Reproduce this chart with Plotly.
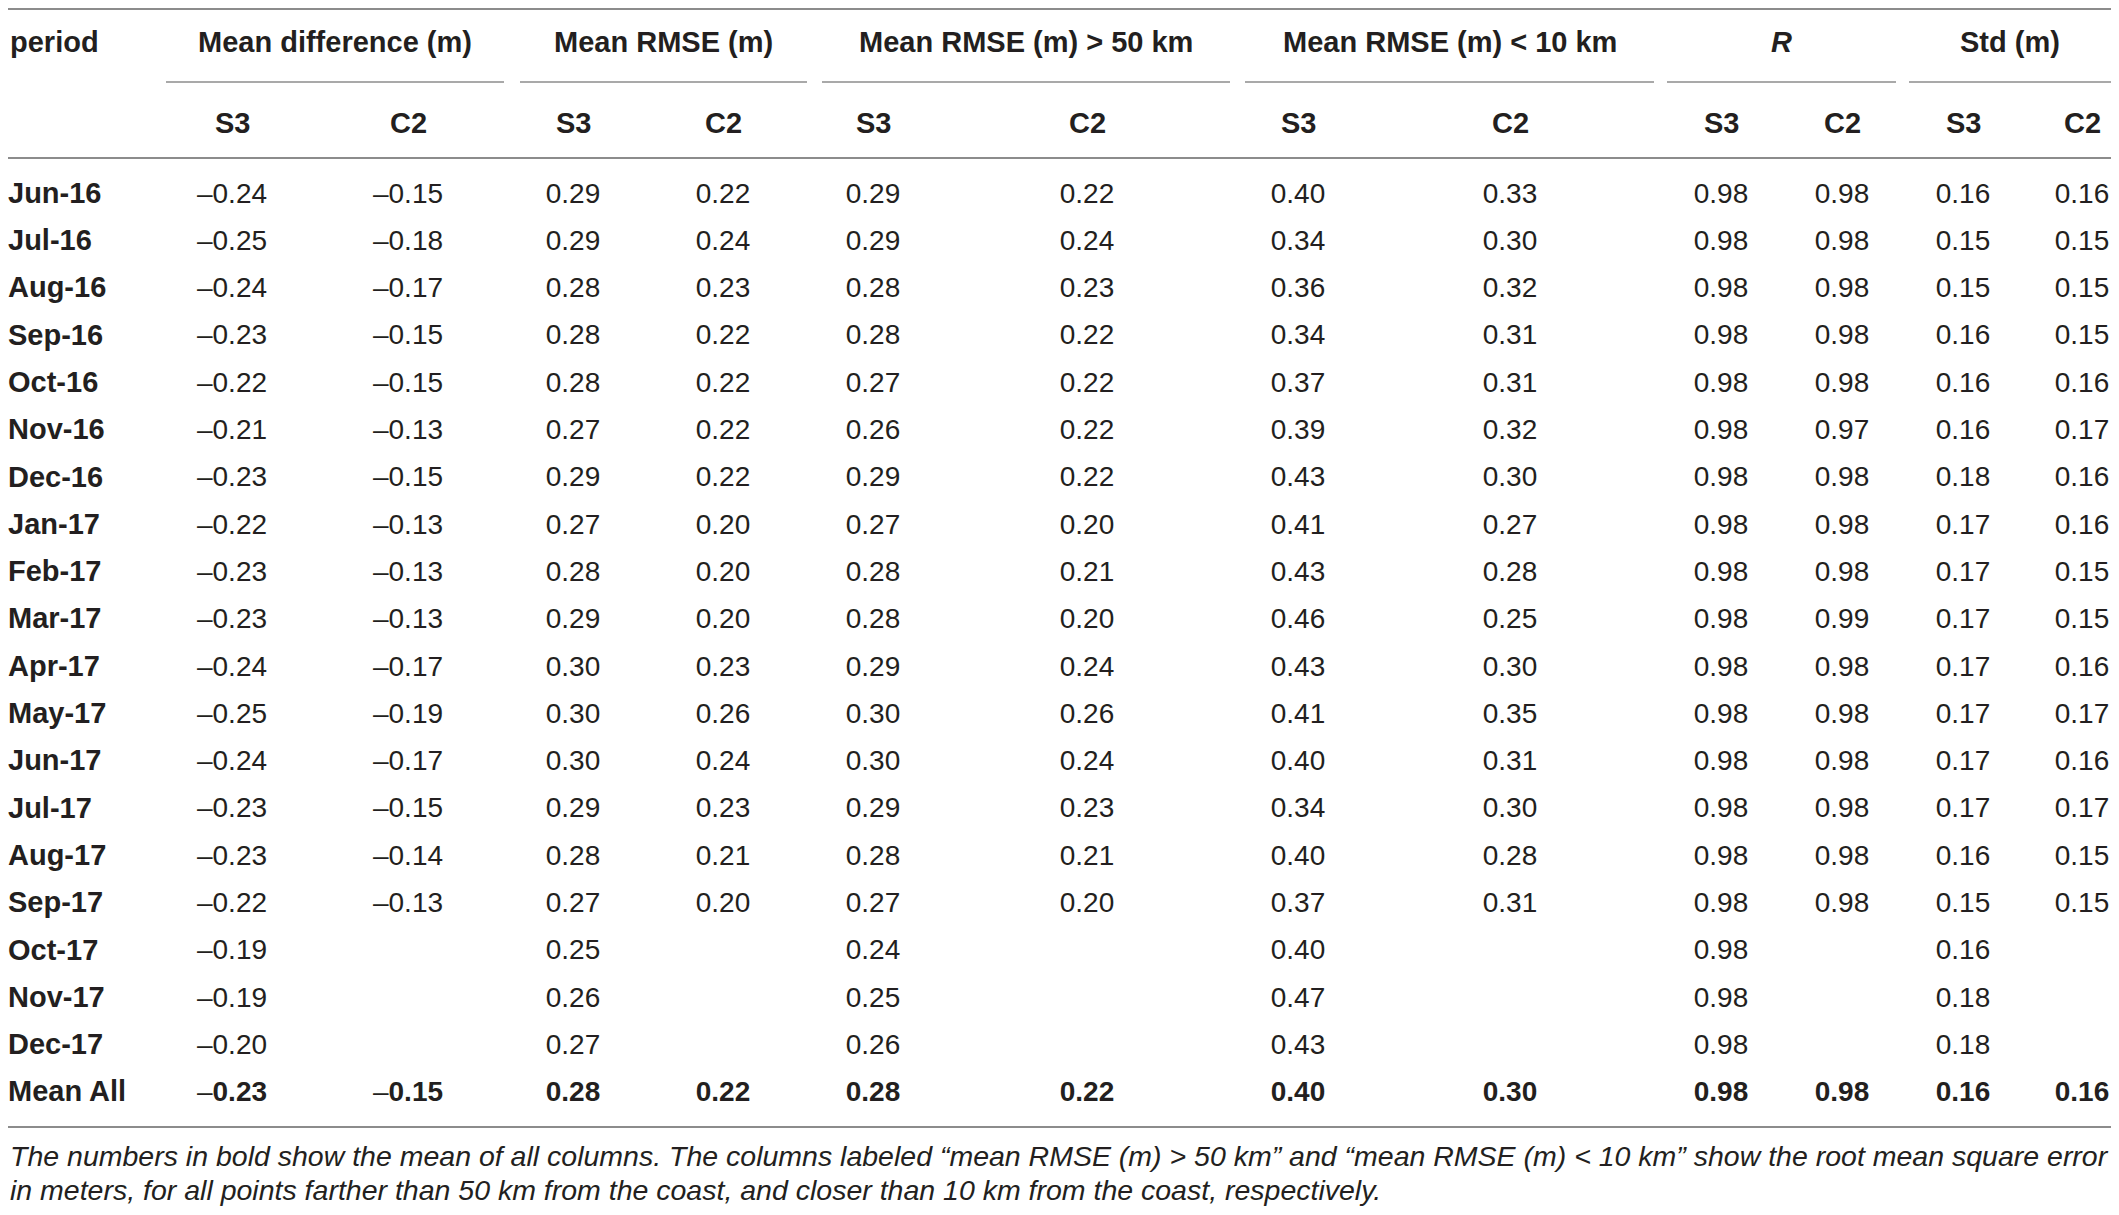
import plotly.graph_objects as go

# table values (None = no data for that month)
periods = ["Jun-16", "Jul-16", "Aug-16", "Sep-16", "Oct-16", "Nov-16", "Dec-16",
           "Jan-17", "Feb-17", "Mar-17", "Apr-17", "May-17", "Jun-17", "Jul-17",
           "Aug-17", "Sep-17", "Oct-17", "Nov-17", "Dec-17"]

md_s3 = [-0.24, -0.25, -0.24, -0.23, -0.22, -0.21, -0.23, -0.22, -0.23, -0.23,
         -0.24, -0.25, -0.24, -0.23, -0.23, -0.22, -0.19, -0.19, -0.20]
md_c2 = [-0.15, -0.18, -0.17, -0.15, -0.15, -0.13, -0.15, -0.13, -0.13, -0.13,
         -0.17, -0.19, -0.17, -0.15, -0.14, -0.13, None, None, None]
rmse_s3 = [0.29, 0.29, 0.28, 0.28, 0.28, 0.27, 0.29, 0.27, 0.28, 0.29,
           0.30, 0.30, 0.30, 0.29, 0.28, 0.27, 0.25, 0.26, 0.27]
rmse_c2 = [0.22, 0.24, 0.23, 0.22, 0.22, 0.22, 0.22, 0.20, 0.20, 0.20,
           0.23, 0.26, 0.24, 0.23, 0.21, 0.20, None, None, None]
rmse50_s3 = [0.29, 0.29, 0.28, 0.28, 0.27, 0.26, 0.29, 0.27, 0.28, 0.28,
             0.29, 0.30, 0.30, 0.29, 0.28, 0.27, 0.24, 0.25, 0.26]
rmse50_c2 = [0.22, 0.24, 0.23, 0.22, 0.22, 0.22, 0.22, 0.20, 0.21, 0.20,
             0.24, 0.26, 0.24, 0.23, 0.21, 0.20, None, None, None]
rmse10_s3 = [0.40, 0.34, 0.36, 0.34, 0.37, 0.39, 0.43, 0.41, 0.43, 0.46,
             0.43, 0.41, 0.40, 0.34, 0.40, 0.37, 0.40, 0.47, 0.43]
rmse10_c2 = [0.33, 0.30, 0.32, 0.31, 0.31, 0.32, 0.30, 0.27, 0.28, 0.25,
             0.30, 0.35, 0.31, 0.30, 0.28, 0.31, None, None, None]
r_s3 = [0.98] * 19
r_c2 = [0.98, 0.98, 0.98, 0.98, 0.98, 0.97, 0.98, 0.98, 0.98, 0.99,
        0.98, 0.98, 0.98, 0.98, 0.98, 0.98, None, None, None]
std_s3 = [0.16, 0.15, 0.15, 0.16, 0.16, 0.16, 0.18, 0.17, 0.17, 0.17,
          0.17, 0.17, 0.17, 0.17, 0.16, 0.15, 0.16, 0.18, 0.18]
std_c2 = [0.16, 0.15, 0.15, 0.15, 0.16, 0.17, 0.16, 0.16, 0.15, 0.15,
          0.16, 0.17, 0.16, 0.17, 0.15, 0.15, None, None, None]

mean_all = [-0.23, -0.15, 0.28, 0.22, 0.28, 0.22, 0.40, 0.30, 0.98, 0.98, 0.16, 0.16]

group_titles = ["Mean difference (m)", "Mean RMSE (m)", "Mean RMSE (m) &gt; 50 km",
                "Mean RMSE (m) &lt; 10 km", "<i>R</i>", "Std (m)"]
sub_labels = ["S3", "C2"]

caption = [
    "The numbers in bold show the mean of all columns. The columns labeled \u201cmean RMSE (m) &gt; 50 km\u201d "
    "and \u201cmean RMSE (m) &lt; 10 km\u201d show the root mean square error",
    "in meters, for all points farther than 50 km from the coast, and closer than 10 km from the coast, respectively.",
]

columns = [md_s3, md_c2, rmse_s3, rmse_c2, rmse50_s3, rmse50_c2,
           rmse10_s3, rmse10_c2, r_s3, r_c2, std_s3, std_c2]

# page geometry in page pixels (y grows downward); the page body has an 8px margin,
# so the figure is shrunk by it and the axis ranges start at the offset
W, H = 2119, 1215
PAD = 8
COL_X = [232, 408, 573, 723, 873, 1087, 1298, 1510, 1721, 1842, 1963, 2082]
GROUP_SPAN = [(166, 504), (520, 807), (822, 1230), (1245, 1654), (1667, 1896), (1909, 2111)]
LEFT = 8
Y_TOP_RULE, Y_GROUP, Y_GROUP_LINE, Y_SUB, Y_HEAD_RULE = 9, 42, 82, 123, 158
ROW0, PITCH = 195.5, 47.3
Y_BOTTOM_RULE = 1127
Y_CAPTION = [1156, 1190]

FONT = "Liberation Sans, Arial, sans-serif"
INK = "#231f20"
RULE = "#8c8c8c"
FS = 29
FS_NUM = 28
FS_CAP = 28.5


def fmt(v):
    if v is None:
        return ""
    return f"{v:.2f}".replace("-", "\u2013")


def fmt_bold(v):
    sign = "\u2013" if v < 0 else ""
    return f"{sign}<b>{abs(v):.2f}</b>"


row_y = [ROW0 + i * PITCH for i in range(len(periods))]
mean_y = ROW0 + len(periods) * PITCH

fig = go.Figure()

# period labels
fig.add_trace(go.Scatter(
    x=[LEFT] * (len(periods) + 1), y=row_y + [mean_y],
    text=[f"<b>{p}</b>" for p in periods] + ["<b>Mean All</b>"],
    mode="text", textposition="middle right",
    textfont=dict(family=FONT, size=FS, color=INK),
    hoverinfo="skip", cliponaxis=False, showlegend=False))

# body cells
xs, ys, txt = [], [], []
for cx, col in zip(COL_X, columns):
    for y, v in zip(row_y, col):
        xs.append(cx)
        ys.append(y)
        txt.append(fmt(v))
fig.add_trace(go.Scatter(
    x=xs, y=ys, text=txt, mode="text", textposition="middle center",
    textfont=dict(family=FONT, size=FS_NUM, color=INK),
    hoverinfo="skip", cliponaxis=False, showlegend=False))

# mean row
fig.add_trace(go.Scatter(
    x=COL_X, y=[mean_y] * len(COL_X), text=[fmt_bold(v) for v in mean_all],
    mode="text", textposition="middle center",
    textfont=dict(family=FONT, size=FS_NUM, color=INK),
    hoverinfo="skip", cliponaxis=False, showlegend=False))

# headers
head_font = dict(family=FONT, size=FS, color=INK)
annotations = [dict(x=LEFT, y=Y_GROUP, text="<b>period</b>", xanchor="left",
                    yanchor="middle", showarrow=False, font=head_font)]
shapes = []
for (x0, x1), title in zip(GROUP_SPAN, group_titles):
    annotations.append(dict(x=(x0 + x1) / 2, y=Y_GROUP, text=f"<b>{title}</b>",
                            xanchor="center", yanchor="middle", showarrow=False, font=head_font))
    shapes.append(dict(type="line", x0=x0, x1=x1, y0=Y_GROUP_LINE, y1=Y_GROUP_LINE,
                       line=dict(color=RULE, width=1.5)))
for i, cx in enumerate(COL_X):
    annotations.append(dict(x=cx, y=Y_SUB, text=f"<b>{sub_labels[i % 2]}</b>",
                            xanchor="center", yanchor="middle", showarrow=False, font=head_font))

for y in (Y_TOP_RULE, Y_HEAD_RULE, Y_BOTTOM_RULE):
    shapes.append(dict(type="line", x0=LEFT, x1=W - PAD, y0=y, y1=y,
                       line=dict(color=RULE, width=1.8)))

for y, line in zip(Y_CAPTION, caption):
    annotations.append(dict(x=LEFT, y=y, text=f"<i>{line}</i>", xanchor="left",
                            yanchor="middle", showarrow=False,
                            font=dict(family=FONT, size=FS_CAP, color=INK)))

fig.update_layout(
    width=W - 2 * PAD, height=H - 2 * PAD,
    margin=dict(l=0, r=0, t=0, b=0),
    paper_bgcolor="white", plot_bgcolor="white",
    xaxis=dict(range=[PAD, W - PAD], visible=False, fixedrange=True),
    yaxis=dict(range=[H - PAD, PAD], visible=False, fixedrange=True),
    annotations=annotations, shapes=shapes,
)

fig.write_html("out.html")
